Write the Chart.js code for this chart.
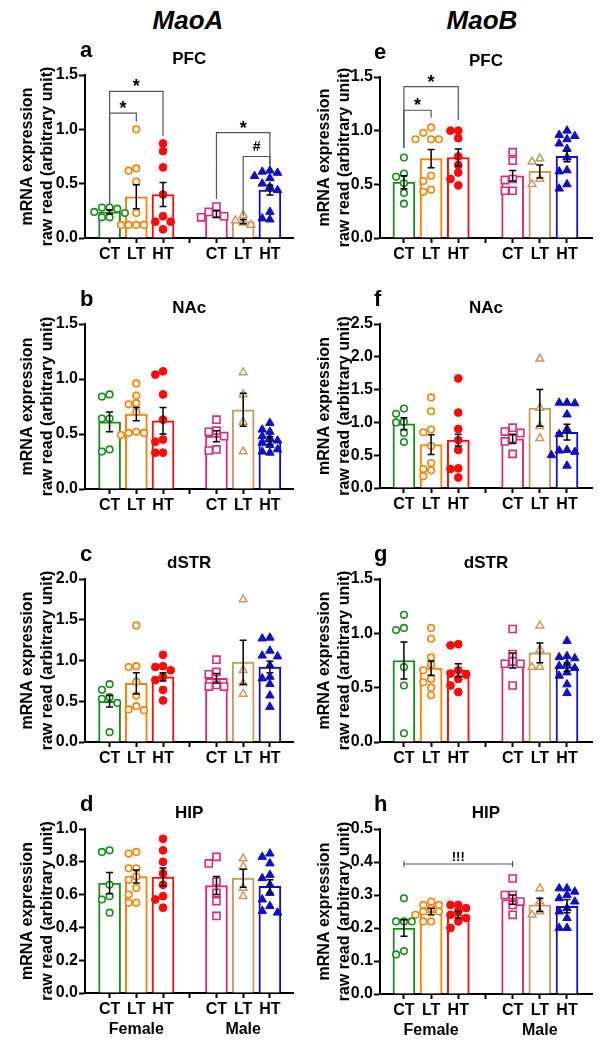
<!DOCTYPE html>
<html><head><meta charset="utf-8">
<script src="https://cdn.jsdelivr.net/npm/chart.js@4.4.1/dist/chart.umd.min.js"></script>
<style>
body{margin:0;background:#fff;width:603px;height:1050px;position:relative;overflow:hidden;font-family:"Liberation Sans",Arial,sans-serif}
.hdr{position:absolute;top:5px;font:italic bold 26px "Liberation Sans",Arial,sans-serif;color:#000;transform:translateX(-50%);white-space:nowrap}
</style></head><body>
<div class="hdr" style="left:188px">MaoA</div>
<div class="hdr" style="left:482px">MaoB</div>
<script>
// ---------- data ----------
const xTickLabels = ['CT','LT','HT','','CT','LT','HT'];
const groupX = [0,1,2,4,5,6];
const sexLabels = ['Female','Male'];
const yTitle = ['mRNA expression','raw read (arbitrary unit)'];

// a: MaoA PFC
const aMeans = [0.24, 0.38, 0.40, 0.22, 0.15, 0.44];
const aSems  = [0.02, 0.11, 0.11, 0.03, 0.02, 0.045];
const aPoints = [
  [0.28,0.27,0.28,0.24,0.23,0.19,0.19],
  [1.00,0.64,0.62,0.52,0.23,0.12,0.12,0.12,0.12],
  [0.87,0.80,0.65,0.40,0.20,0.15,0.15,0.08],
  [0.29,0.24,0.22,0.20,0.19],
  [0.21,0.16,0.14,0.12],
  [0.62,0.61,0.60,0.57,0.55,0.50,0.47,0.44,0.24,0.18,0.17]];
const aMarks = [
  {from:0,to:1,y:1.15,legFrom:0.31,legTo:1.07,text:'*'},
  {from:0,to:2,y:1.35,legFrom:0.31,legTo:0.94,text:'*'},
  {from:3,to:5,y:0.97,legFrom:0.36,legTo:0.67,text:'*'},
  {from:4,to:5,y:0.75,legFrom:0.20,legTo:0.67,text:'#'}];

// b: MaoA NAc
const bMeans = [0.61, 0.68, 0.62, 0.48, 0.72, 0.44];
const bSems  = [0.09, 0.06, 0.12, 0.05, 0.15, 0.035];
const bPoints = [
  [0.86,0.84,0.64,0.64,0.36,0.34],
  [0.96,0.85,0.78,0.77,0.70,0.52,0.51,0.51,0.49],
  [1.07,1.04,0.86,0.63,0.45,0.43,0.33,0.33],
  [0.63,0.53,0.52,0.48,0.36,0.35],
  [1.06,0.86,0.61,0.34],
  [0.60,0.54,0.52,0.48,0.46,0.44,0.42,0.40,0.36,0.34,0.33]];

// c: MaoA dSTR
const cMeans = [0.50, 0.72, 0.80, 0.78, 0.98, 0.92];
const cSems  = [0.07, 0.13, 0.05, 0.06, 0.27, 0.07];
const cPoints = [
  [0.71,0.64,0.55,0.53,0.48,0.12],
  [1.43,0.93,0.92,0.74,0.57,0.44,0.40,0.39],
  [1.07,0.93,0.92,0.88,0.80,0.76,0.64,0.51],
  [1.01,0.86,0.83,0.70,0.68,0.68],
  [1.75,0.88,0.72,0.59],
  [1.28,1.27,1.12,1.06,1.05,0.94,0.80,0.78,0.71,0.57,0.43]];

// d: MaoA HIP
const dMeans = [0.67, 0.71, 0.707, 0.655, 0.70, 0.65];
const dSems  = [0.065, 0.04, 0.055, 0.055, 0.055, 0.04];
const dPoints = [
  [0.87,0.86,0.66,0.59,0.57,0.49],
  [0.86,0.85,0.76,0.76,0.71,0.69,0.64,0.60,0.55,0.55],
  [0.94,0.87,0.80,0.73,0.66,0.59,0.57,0.52],
  [0.83,0.79,0.68,0.61,0.56,0.47],
  [0.82,0.77,0.64,0.59],
  [0.85,0.83,0.79,0.72,0.70,0.66,0.61,0.57,0.53,0.50,0.49]];

// e: MaoB PFC
const eMeans = [0.52, 0.74, 0.75, 0.58, 0.62, 0.76];
const eSems  = [0.06, 0.085, 0.08, 0.05, 0.06, 0.05];
const ePoints = [
  [0.75,0.60,0.57,0.51,0.42,0.32],
  [1.03,0.98,0.92,0.92,0.92,0.58,0.53,0.45,0.43],
  [1.00,1.00,0.93,0.76,0.68,0.61,0.55,0.49],
  [0.80,0.72,0.55,0.54,0.44,0.44],
  [0.74,0.71,0.55,0.50],
  [1.00,0.96,0.95,0.92,0.88,0.83,0.75,0.63,0.62,0.50,0.46]];
const eMarks = [
  {from:0,to:1,y:1.19,legFrom:0.84,legTo:1.12,text:'*'},
  {from:0,to:2,y:1.41,legFrom:0.84,legTo:1.10,text:'*'}];

// f: MaoB NAc
const fMeans = [0.98, 0.66, 0.73, 0.75, 1.22, 0.85];
const fSems  = [0.09, 0.15, 0.09, 0.07, 0.28, 0.12];
const fPoints = [
  [1.21,1.13,1.01,1.00,0.84,0.70],
  [1.38,1.17,0.89,0.85,0.64,0.38,0.29,0.27,0.18],
  [1.67,1.15,0.90,0.73,0.58,0.30,0.29,0.16],
  [0.92,0.86,0.84,0.75,0.71,0.52],
  [1.97,1.22,0.94,0.76],
  [1.30,1.30,1.29,1.12,0.90,0.82,0.58,0.57,0.55,0.50,0.34]];

// g: MaoB dSTR
const gMeans = [0.75, 0.68, 0.66, 0.75, 0.82, 0.69];
const gSems  = [0.17, 0.065, 0.06, 0.07, 0.09, 0.04];
const gPoints = [
  [1.17,1.05,1.03,0.69,0.52,0.08],
  [1.05,0.95,0.78,0.71,0.66,0.58,0.55,0.50,0.43],
  [0.90,0.89,0.66,0.63,0.62,0.58,0.52,0.46],
  [1.04,0.81,0.74,0.72,0.72,0.52],
  [1.07,0.85,0.69,0.69],
  [0.93,0.79,0.78,0.77,0.72,0.70,0.68,0.64,0.61,0.53,0.45]];

// h: MaoB HIP
const hMeans = [0.20, 0.25, 0.24, 0.286, 0.27, 0.266];
const hSems  = [0.025, 0.01, 0.01, 0.014, 0.02, 0.02];
const hPoints = [
  [0.29,0.22,0.22,0.22,0.13,0.12],
  [0.28,0.27,0.27,0.26,0.25,0.25,0.24,0.22,0.22],
  [0.27,0.27,0.26,0.25,0.24,0.23,0.22,0.20],
  [0.35,0.30,0.30,0.28,0.27,0.24],
  [0.32,0.28,0.25,0.24],
  [0.32,0.32,0.31,0.30,0.29,0.28,0.26,0.25,0.23,0.20,0.20]];
const hMarks = [{from:0,to:3,y:0.394,text:'!!!',capped:true}];

// ---------- styles / layout ----------
const FONT = '"Liberation Sans", Arial, sans-serif';
const COLORS = ['#1a8c1a','#ff8000','#ff0a0a','#d92a7c','#c89a5e','#0f0fc6'];
const PSTYLE = [
  {s:'circle',r:3.3,bw:1.6,fill:false},
  {s:'circle',r:3.3,bw:1.6,fill:false},
  {s:'circle',r:3.9,bw:1,fill:true},
  {s:'rect',r:5.0,bw:1.6,fill:false},
  {s:'triangle',r:4.5,bw:1.5,fill:false},
  {s:'triangle',r:4.9,bw:1,fill:true}];
const MARKFONT = {'*':{size:18,dy:1},'#':{size:14,dy:-6},'!!!':{size:13,dy:-2.5}};
const COLS = [
  {left:0,width:300,axisX:85,plotRight:297,xMin:-0.92,xMax:6.88,titleCenter:28,letterX:80},
  {left:300,width:303,axisX:80,plotRight:292,xMin:-0.88,xMax:6.92,titleCenter:25,letterX:74}];

const panels = [
  {letter:'a',region:'PFC', col:0,row:0,top:75, bottom:238,yMax:1.5,yStep:0.5,means:aMeans,sems:aSems,points:aPoints,marks:aMarks},
  {letter:'b',region:'NAc', col:0,row:1,top:324,bottom:489,yMax:1.5,yStep:0.5,means:bMeans,sems:bSems,points:bPoints,marks:[]},
  {letter:'c',region:'dSTR',col:0,row:2,top:579,bottom:742,yMax:2.0,yStep:0.5,means:cMeans,sems:cSems,points:cPoints,marks:[]},
  {letter:'d',region:'HIP', col:0,row:3,top:829,bottom:993,yMax:1.0,yStep:0.2,means:dMeans,sems:dSems,points:dPoints,marks:[]},
  {letter:'e',region:'PFC', col:1,row:0,top:77, bottom:238,yMax:1.5,yStep:0.5,means:eMeans,sems:eSems,points:ePoints,marks:eMarks},
  {letter:'f',region:'NAc', col:1,row:1,top:324,bottom:488,yMax:2.5,yStep:0.5,means:fMeans,sems:fSems,points:fPoints,marks:[]},
  {letter:'g',region:'dSTR',col:1,row:2,top:579,bottom:742,yMax:1.5,yStep:0.5,means:gMeans,sems:gSems,points:gPoints,marks:[]},
  {letter:'h',region:'HIP', col:1,row:3,top:829,bottom:994,yMax:0.5,yStep:0.1,means:hMeans,sems:hSems,points:hPoints,marks:hMarks}];

// beeswarm-style horizontal spread (layout only)
function swarm(values, cx, pxPerY, pxPerX){
  const placed = [];
  const order = values.map((v,i)=>i).sort((a,b)=>values[b]-values[a]);
  const out = new Array(values.length);
  const D = 6.6, step = 7.8;
  const ks = [0,-1,1,-2,2,-3,3];
  order.forEach(i=>{
    const yp = values[i]*pxPerY;
    let chosen = 0, best = -1;
    for(const k of ks){
      const xp = k*step;
      const dmin = placed.reduce((m,p)=>Math.min(m, Math.hypot(p.x-xp, p.y-yp)), Infinity);
      if(dmin >= D){chosen=k;best=Infinity;break;}
      if(dmin > best){best=dmin;chosen=k;}
    }
    placed.push({x:chosen*step,y:yp});
    out[i] = {x: cx + chosen*step/pxPerX, y: values[i]};
  });
  return out;
}

const overlay = {
  id:'overlay',
  afterDatasetsDraw(chart, args, o){
    const p = o.panel, ctx = chart.ctx, xs = chart.scales.x, ys = chart.scales.y, ca = chart.chartArea;
    ctx.save();
    // error bars
    ctx.strokeStyle = '#000'; ctx.lineWidth = 1.5;
    p.means.forEach((m,i)=>{
      const x = xs.getPixelForValue(groupX[i]);
      const y1 = ys.getPixelForValue(m + p.sems[i]);
      const y2 = ys.getPixelForValue(m - p.sems[i]);
      ctx.beginPath();
      ctx.moveTo(x,y1); ctx.lineTo(x,y2);
      ctx.moveTo(x-3.5,y1); ctx.lineTo(x+3.5,y1);
      ctx.moveTo(x-3.5,y2); ctx.lineTo(x+3.5,y2);
      ctx.stroke();
    });
    // significance marks
    p.marks.forEach(mk=>{
      const x1 = xs.getPixelForValue(groupX[mk.from]);
      const x2 = xs.getPixelForValue(groupX[mk.to]);
      const y = ys.getPixelForValue(mk.y);
      ctx.strokeStyle = '#555'; ctx.lineWidth = 1.2;
      ctx.beginPath();
      if(mk.capped){
        ctx.moveTo(x1,y); ctx.lineTo(x2,y);
        ctx.moveTo(x1,y-3); ctx.lineTo(x1,y+3);
        ctx.moveTo(x2,y-3); ctx.lineTo(x2,y+3);
      } else {
        ctx.moveTo(x1, ys.getPixelForValue(mk.legFrom)); ctx.lineTo(x1,y);
        ctx.lineTo(x2,y); ctx.lineTo(x2, ys.getPixelForValue(mk.legTo));
      }
      ctx.stroke();
      const f = MARKFONT[mk.text];
      ctx.fillStyle = '#000'; ctx.font = 'bold '+f.size+'px '+FONT;
      ctx.textAlign = 'center'; ctx.textBaseline = 'alphabetic';
      ctx.fillText(mk.text, (x1+x2)/2, y + f.dy);
    });
    // panel letter and region title
    ctx.fillStyle = '#000';
    ctx.font = 'bold 22px '+FONT; ctx.textAlign='left'; ctx.textBaseline='alphabetic';
    ctx.fillText(p.letter, o.letterX, ca.top - 18);
    ctx.font = 'bold 17px '+FONT; ctx.textAlign='center'; ctx.textBaseline='middle';
    ctx.fillText(p.region, (ca.left+ca.right)/2, ca.top - 16);
    if(p.row===3){
      ctx.font = 'bold 16px '+FONT;
      ctx.fillText(sexLabels[0], xs.getPixelForValue(groupX[1]), ca.bottom + 37);
      ctx.fillText(sexLabels[1], xs.getPixelForValue(groupX[4]), ca.bottom + 37);
    }
    ctx.restore();
  }
};

function makePanel(p){
  const col = COLS[p.col];
  const T = p.top - 44;
  const xAxisH = 32;
  const padBottom = p.row===3 ? 24 : 4;
  const H = p.bottom - T + xAxisH + padBottom;
  const div = document.createElement('div');
  div.style.cssText = `position:absolute;left:${col.left}px;top:${T}px;width:${col.width}px;height:${H}px`;
  const cv = document.createElement('canvas');
  cv.width = col.width; cv.height = H;
  cv.style.width = col.width+'px'; cv.style.height = H+'px';
  div.appendChild(cv); document.body.appendChild(div);

  const plotH = p.bottom - p.top, plotW = col.plotRight - col.axisX;
  const pxPerY = plotH / p.yMax, pxPerX = plotW / (col.xMax - col.xMin);
  const datasets = [{
    type:'bar', order:3,
    data: groupX.map((x,i)=>({x, y:p.means[i]})),
    backgroundColor:'#fff', borderColor:COLORS, borderWidth:2, barThickness:22
  }];
  p.points.forEach((vals,g)=>{
    const st = PSTYLE[g];
    datasets.push({
      type:'scatter', order:1,
      data: swarm(vals, groupX[g], pxPerY, pxPerX),
      pointStyle: st.s, pointRadius: st.r, pointHoverRadius: st.r,
      pointBorderWidth: st.bw, pointBorderColor: COLORS[g],
      pointBackgroundColor: st.fill ? COLORS[g] : '#fff'
    });
  });
  const tickFont = {family:FONT,size:16,weight:'bold'};
  new Chart(cv, {
    type:'scatter',
    data:{datasets},
    options:{
      responsive:false, animation:false, devicePixelRatio: window.devicePixelRatio || 1,
      layout:{padding:{top:p.top - T, bottom:padBottom, left:0, right:col.width - col.plotRight}},
      plugins:{legend:{display:false}, tooltip:{enabled:false}, overlay:{panel:p, letterX:col.letterX}},
      scales:{
        x:{type:'linear', min:col.xMin, max:col.xMax, offset:false,
           afterBuildTicks(s){ s.ticks = xTickLabels.map((_,i)=>({value:i})); },
           afterFit(s){ s.height = xAxisH; },
           ticks:{autoSkip:false, maxRotation:0, minRotation:0, padding:2, color:'#000',
                  font:{family:FONT,size:16,weight:'bold'},
                  callback:(v)=> xTickLabels[v] !== undefined ? xTickLabels[v] : ''},
           grid:{offset:false, drawOnChartArea:false, drawTicks:true, tickLength:5, tickWidth:2, tickColor:'#000', color:'#000'},
           border:{display:true, color:'#000', width:2}},
        y:{type:'linear', min:0, max:p.yMax,
           afterFit(s){ s.width = col.axisX; },
           ticks:{stepSize:p.yStep, padding:1, color:'#000', font:tickFont,
                  callback:(v)=> Number(v).toFixed(1)},
           grid:{drawOnChartArea:false, drawTicks:true, tickLength:6, tickWidth:2, tickColor:'#000', color:'#000'},
           border:{display:true, color:'#000', width:2},
           title:{display:true, text:yTitle, color:'#000',
                  font:{family:FONT,size:16,weight:'bold',lineHeight:1.2},
                  padding:{top:col.titleCenter - 9.6, bottom:0}}}
      }
    },
    plugins:[overlay]
  });
}
panels.forEach(makePanel);
</script>
</body></html>
